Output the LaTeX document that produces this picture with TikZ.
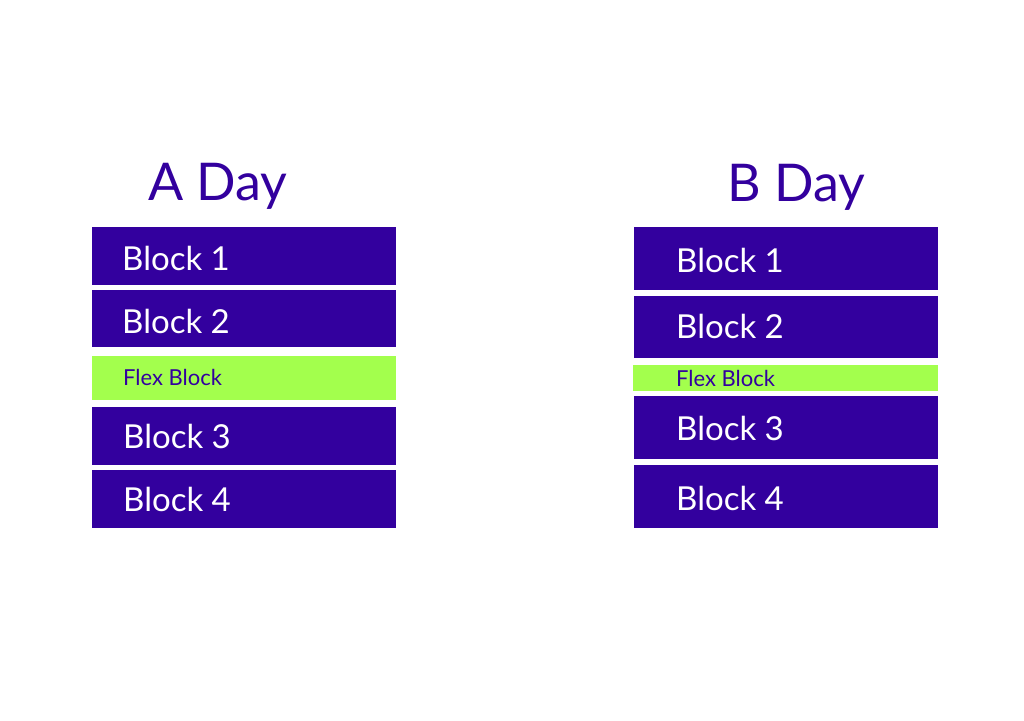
\documentclass[tikz,border=0pt]{standalone}
\usepackage{fontspec}
\setmainfont{Lato}
\definecolor{dpurple}{RGB}{51,0,158}
\definecolor{lgreen}{RGB}{163,255,77}
\begin{document}
\begin{tikzpicture}[x=1pt,y=-1pt,
  blk/.style={fill=dpurple,draw=none,inner sep=0pt},
  flx/.style={fill=lgreen,draw=none,inner sep=0pt},
  btxt/.style={anchor=base west,inner sep=0pt,text=white,font=\fontsize{33}{36}\selectfont},
  ftxt/.style={anchor=base west,inner sep=0pt,text=dpurple,font=\fontsize{22}{24}\selectfont},
  ttl/.style={anchor=base west,inner sep=0pt,text=dpurple,font=\fontsize{52}{56}\selectfont}]
\useasboundingbox (0,0) rectangle (1024,720);
% A day
\node[ttl] (at) at (148,200) {A Day};
\node[blk,minimum width=304pt,minimum height=57.4pt] (a1) at (244,256) {};
\node[blk,minimum width=304pt,minimum height=57.3pt] (a2) at (244,318.65) {};
\node[flx,minimum width=304pt,minimum height=44pt] (af) at (244,378) {};
\node[blk,minimum width=304pt,minimum height=57.4pt] (a3) at (244,436) {};
\node[blk,minimum width=304pt,minimum height=57.7pt] (a4) at (244,498.85) {};
\node[btxt] (a1t) at (122,270) {Block 1};
\node[btxt] (a2t) at (122,333) {Block 2};
\node[ftxt] (aft) at (123,385) {Flex Block};
\node[btxt] (a3t) at (123,448) {Block 3};
\node[btxt] (a4t) at (123,511.5) {Block 4};
% B day
\node[ttl] (bt) at (727,201) {B Day};
\node[blk,minimum width=304pt,minimum height=62.7pt] (b1) at (786,258.65) {};
\node[blk,minimum width=304pt,minimum height=62.3pt] (b2) at (786,327.15) {};
\node[flx,minimum width=305.3pt,minimum height=26pt] (bf) at (785.35,378) {};
\node[blk,minimum width=304pt,minimum height=62.7pt] (b3) at (786,427.35) {};
\node[blk,minimum width=304pt,minimum height=62.7pt] (b4) at (786,496.35) {};
\node[btxt] (b1t) at (676,272) {Block 1};
\node[btxt] (b2t) at (676,338) {Block 2};
\node[ftxt] (bft) at (676,386.5) {Flex Block};
\node[btxt] (b3t) at (676,440.5) {Block 3};
\node[btxt] (b4t) at (676,510) {Block 4};
\end{tikzpicture}
\end{document}
